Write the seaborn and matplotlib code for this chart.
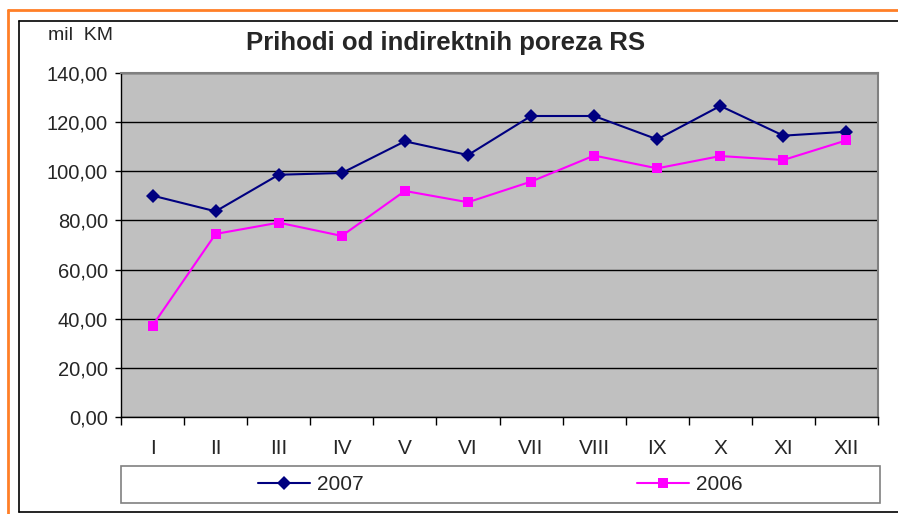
import pandas as pd
import seaborn as sns
import matplotlib.pyplot as plt
from matplotlib.lines import Line2D
from matplotlib.patches import Rectangle
from matplotlib.ticker import FuncFormatter, FixedLocator

# monthly revenue (mil KM)
months = ['I', 'II', 'III', 'IV', 'V', 'VI', 'VII', 'VIII', 'IX', 'X', 'XI', 'XII']
y2007 = [90.1, 83.7, 98.6, 99.3, 112.2, 106.6, 122.5, 122.5, 113.0, 126.6, 114.5, 116.1]
y2006 = [37.2, 74.5, 79.1, 73.7, 92.0, 87.4, 95.8, 106.4, 101.2, 106.2, 104.6, 112.6]

df = pd.DataFrame({
    'month': months * 2,
    'pos': list(range(12)) * 2,
    'value': y2007 + y2006,
    'year': ['2007'] * 12 + ['2006'] * 12,
})

sns.set_style('white')
plt.rcParams['font.family'] = ['Liberation Sans', 'DejaVu Sans']

fig = plt.figure(figsize=(8.98, 5.14), dpi=100)
W, H = 898, 514

def fx(px):
    return px / W

def fy(py):
    return 1 - py / H

# outer orange border and black chart frame
fig.add_artist(Line2D([fx(8), 1], [fy(10), fy(10)], color='#FF7F27', lw=2))
fig.add_artist(Line2D([fx(8), fx(8)], [fy(10), 0], color='#FF7F27', lw=2))
fig.add_artist(Line2D([fx(19), 1], [fy(21), fy(21)], color='black', lw=1.2))
fig.add_artist(Line2D([fx(19), fx(19)], [fy(21), fy(512)], color='black', lw=1.2))
fig.add_artist(Line2D([fx(19), 1], [fy(512), fy(512)], color='black', lw=1.2))

ax = fig.add_axes([fx(121), fy(417), fx(878) - fx(121), fy(73) - fy(417)])
ax.set_facecolor('#C0C0C0')

palette = {'2007': '#000080', '2006': '#FF00FF'}
markers = {'2007': 'D', '2006': 's'}
sns.lineplot(data=df, x='pos', y='value', hue='year', style='year',
             palette=palette, markers=markers, dashes=False,
             markersize=7.5, markeredgewidth=0, linewidth=1.5,
             legend=False, ax=ax, zorder=3)

ax.set_xlim(-0.5, 11.5)
ax.set_ylim(0, 140)
ax.set_yticks(range(0, 141, 20))
ax.yaxis.set_major_formatter(FuncFormatter(lambda v, p: f'{v:.2f}'.replace('.', ',')))
ax.grid(axis='y', color='black', lw=1, zorder=1)
ax.set_axisbelow(True)

ax.xaxis.set_major_locator(FixedLocator([i - 0.5 for i in range(13)]))
ax.xaxis.set_major_formatter(FuncFormatter(lambda v, p: ''))
ax.xaxis.set_minor_locator(FixedLocator(list(range(12))))
ax.set_xticklabels(months, minor=True)
ax.tick_params(axis='x', which='major', direction='out', length=6, width=1, color='black', bottom=True)
ax.tick_params(axis='x', which='minor', length=0, pad=16, labelsize=15)
ax.tick_params(axis='y', direction='out', length=4.5, width=1, color='black', left=True, labelsize=14.5, pad=5)
ax.set_xlabel('')
ax.set_ylabel('')

for side in ['top', 'right']:
    ax.spines[side].set_color('#808080')
    ax.spines[side].set_linewidth(1.5)
for side in ['left', 'bottom']:
    ax.spines[side].set_color('black')
    ax.spines[side].set_linewidth(1)

fig.text(fx(446), fy(43), 'Prihodi od indirektnih poreza RS', ha='center', va='center',
         fontsize=18.5, fontweight='bold')
fig.text(fx(48), fy(36), 'mil  KM', ha='left', va='center', fontsize=14)

# legend box below the plot
fig.add_artist(Rectangle((fx(121), fy(503)), fx(880) - fx(121), fy(466) - fy(503),
                         transform=fig.transFigure, fill=False, edgecolor='#808080', lw=1.2))
mid_y = (fy(466) + fy(503)) / 2
for year, cx in [('2007', (121 + 500) / 2), ('2006', (500 + 880) / 2)]:
    h = Line2D([], [], color=palette[year], marker=markers[year], markersize=7.5,
               markeredgewidth=0, lw=1.5)
    fig.legend([h], [year], loc='center', bbox_to_anchor=(fx(cx), mid_y),
               frameon=False, fontsize=15, handlelength=2.5, handletextpad=0.35)

fig.savefig('out.png', dpi=100)
